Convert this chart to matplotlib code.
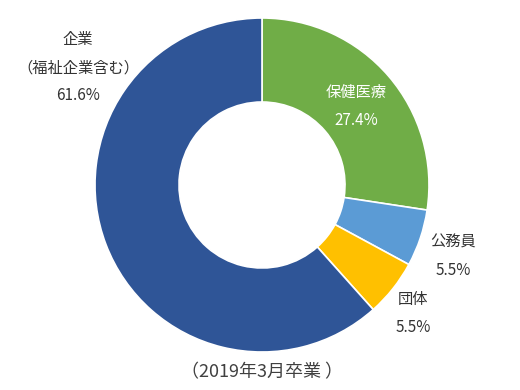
import matplotlib
matplotlib.use("Agg")
import matplotlib.pyplot as plt

plt.rcParams['font.family'] = ['Noto Sans CJK JP', 'DejaVu Sans']

# ---- DATA ----
labels = ["保健医療", "公務員", "団体", "企業\n（福祉企業含む）"]
values = [27.4, 5.5, 5.5, 61.6]
colors = ["#70AD47", "#5B9BD5", "#FFC000", "#2F5597"]
caption = "（2019年3月卒業 ）"

# label positions in pixels (x, top y) and text colour
label_pos = [(356, 84), (453, 234), (413, 291), (78, 31)]
label_col = ["white", "#333333", "#333333", "#333333"]

fig = plt.figure(figsize=(5.2, 3.9), dpi=100)
ax = fig.add_axes([0, 0, 1, 1])
ax.axis("off")

ax.pie(values, colors=colors, startangle=90, counterclock=False,
       center=(262, 390 - 185), radius=167,
       wedgeprops=dict(width=84, edgecolor="white", linewidth=1.2))
ax.set_xlim(0, 520)
ax.set_ylim(0, 390)
ax.set_aspect("equal")

for lab, val, (x, y), c in zip(labels, values, label_pos, label_col):
    txt = lab + "\n" + f"{val}%"
    ax.text(x, 390 - y, txt, ha="center", va="top",
            fontsize=11, color=c, linespacing=1.85)

ax.text(262, 390 - 372, caption, ha="center", va="center",
        fontsize=13, color="#404040")

fig.savefig("out.png", dpi=100)
